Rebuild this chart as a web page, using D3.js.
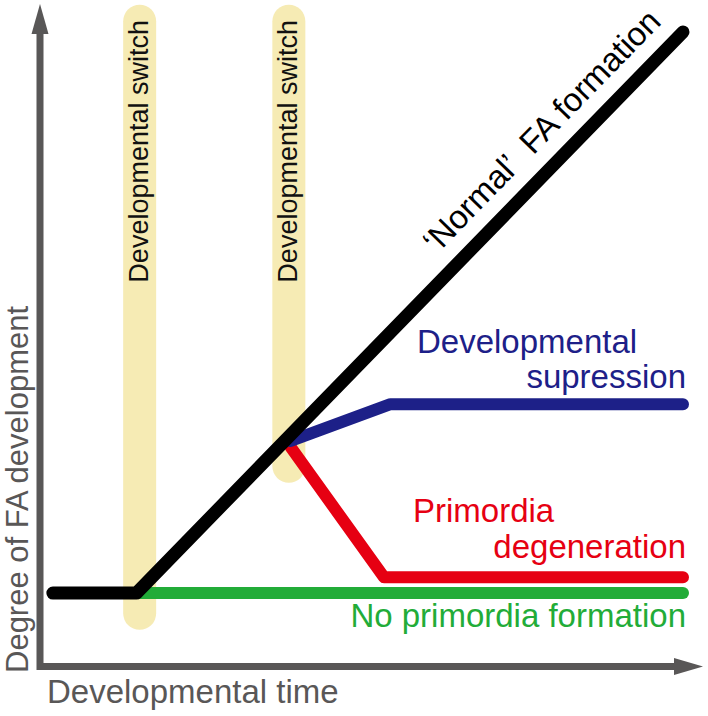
<!DOCTYPE html>
<html>
<head>
<meta charset="utf-8">
<script src="https://cdn.jsdelivr.net/npm/d3@7"></script>
<style>
  html, body { margin: 0; padding: 0; background: #fff; }
  svg { display: block; font-family: "Liberation Sans", Arial, Helvetica, sans-serif; }
</style>
</head>
<body>
<svg id="chart" width="708" height="716"></svg>
<script>
// ---- data (arbitrary units: time 0-100, degree 0-100) ----
const timeDomain = [0, 100];
const degreeDomain = [0, 100];
const normalFormation = [[2, 11.5], [15, 11.5], [100, 100]];
const noPrimordia = [[15, 11.5], [100, 11.5]];
const suppression = [[39, 35.5], [54.5, 41.3], [100, 41.3]];
const degeneration = [[39, 34.5], [53.5, 14], [100, 14]];
const switchTimes = [15.5, 38.7];
const switchTop = [104.3, 104.3];
const switchBottom = [5.7, 28.9];
const switchLabel = "Developmental switch";
const xLabel = "Developmental time";
const yLabel = "Degree of FA development";

const svg = d3.select("#chart");
const x = d3.scaleLinear().domain(timeDomain).range([40, 683]);
const y = d3.scaleLinear().domain(degreeDomain).range([666, 32]);

const AXIS = "#595757", YEL = "#f6ebb4", BLACK = "#000000",
      BLUE = "#1d2088", RED = "#e60012", GREEN = "#22ac38";

// developmental switch bars
const barW = 33;
switchTimes.forEach((t, i) => {
  svg.append("rect")
    .attr("x", x(t) - barW / 2).attr("width", barW)
    .attr("y", y(switchTop[i])).attr("height", y(switchBottom[i]) - y(switchTop[i]))
    .attr("rx", barW / 2).attr("ry", barW / 2)
    .attr("fill", YEL);
  svg.append("text")
    .attr("transform", `translate(${x(t) + 8},20) rotate(-90)`)
    .attr("text-anchor", "end")
    .attr("font-size", 27)
    .attr("fill", "#111")
    .text(switchLabel);
});

// axes
svg.append("path")
  .attr("d", `M${x(0)},33 L${x(0)},${y(0) + 0.5} L676,${y(0) + 0.5}`)
  .attr("fill", "none").attr("stroke", AXIS).attr("stroke-width", 7)
  .attr("stroke-linejoin", "miter");
svg.append("path")
  .attr("d", `M${x(0)},4 L${x(0) + 8.5},34 L${x(0) - 8.5},34 Z`)
  .attr("fill", AXIS);
svg.append("path")
  .attr("d", `M703,${y(0) + 0.5} L674,${y(0) + 0.5 - 8.5} L674,${y(0) + 0.5 + 8.5} Z`)
  .attr("fill", AXIS);

svg.append("text")
  .attr("x", 47).attr("y", 703)
  .attr("font-size", 33).attr("fill", AXIS)
  .text(xLabel);
svg.append("text")
  .attr("transform", `translate(28,673) rotate(-90)`)
  .attr("font-size", 31).attr("fill", AXIS)
  .text(yLabel);

// lines
const line = d3.line().x(d => x(d[0])).y(d => y(d[1]));
function draw(data, color, w) {
  svg.append("path").datum(data)
    .attr("d", line)
    .attr("fill", "none").attr("stroke", color).attr("stroke-width", w)
    .attr("stroke-linecap", "round").attr("stroke-linejoin", "round");
}
draw(noPrimordia, GREEN, 12);
draw(degeneration, RED, 12);
draw(suppression, BLUE, 12);
draw(normalFormation, BLACK, 13);

// label along the normal formation line
const p0 = [x(normalFormation[1][0]), y(normalFormation[1][1])];
const p1 = [x(normalFormation[2][0]), y(normalFormation[2][1])];
const len = Math.hypot(p1[0] - p0[0], p1[1] - p0[1]);
const dx = (p1[0] - p0[0]) / len, dy = (p1[1] - p0[1]) / len;
const ang = Math.atan2(dy, dx) * 180 / Math.PI;
const along = 452, perp = 21;
const tx = p0[0] + dx * along + dy * perp;
const ty = p0[1] + dy * along - dx * perp;
svg.append("text")
  .attr("transform", `translate(${tx},${ty}) rotate(${ang})`)
  .attr("font-size", 33).attr("fill", BLACK)
  .attr("xml:space", "preserve")
  .style("white-space", "pre")
  .text("\u2018Normal\u2019  FA formation");

// series labels
svg.append("text").attr("x", 417).attr("y", 353).attr("font-size", 33)
  .attr("fill", BLUE).text("Developmental");
svg.append("text").attr("x", 686).attr("y", 388).attr("font-size", 33)
  .attr("text-anchor", "end").attr("fill", BLUE).text("supression");
svg.append("text").attr("x", 413).attr("y", 522).attr("font-size", 33)
  .attr("fill", RED).text("Primordia");
svg.append("text").attr("x", 686).attr("y", 558).attr("font-size", 33)
  .attr("text-anchor", "end").attr("fill", RED).text("degeneration");
svg.append("text").attr("x", 686).attr("y", 627).attr("font-size", 33)
  .attr("text-anchor", "end").attr("fill", GREEN).text("No primordia formation");
</script>
</body>
</html>
